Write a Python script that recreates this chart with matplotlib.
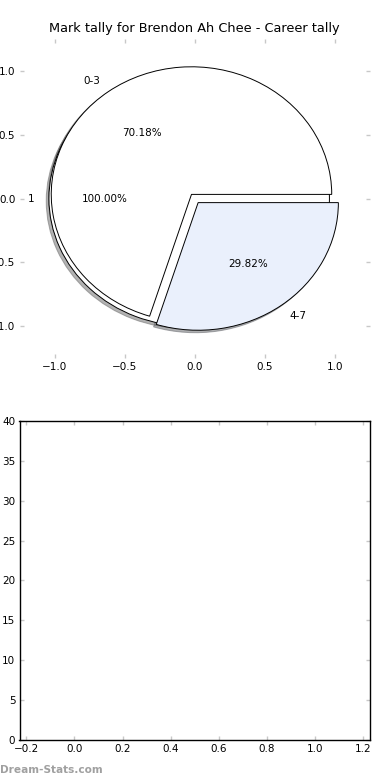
import matplotlib
matplotlib.use("Agg")
import matplotlib.pyplot as plt

title = "Mark tally for Brendon Ah Chee - Career tally"

# outer (total) pie
total_labels = ["1"]
total_values = [57]
total_explode = [0.04]

# mark ranges
range_labels = ["0-3", "4-7"]
range_values = [40, 17]
range_colors = ["#ffffff", "#eaf0fc"]
range_explode = [0.04, 0.04]

pie_ticks = [-1.0, -0.5, 0.0, 0.5, 1.0]
bar_xticks = [-0.2, 0.0, 0.2, 0.4, 0.6, 0.8, 1.0, 1.2]
bar_yticks = [0, 5, 10, 15, 20, 25, 30, 35, 40]

plt.rcParams["font.family"] = "DejaVu Sans"
plt.rcParams["font.size"] = 7.5

fig = plt.figure(figsize=(3.9, 7.8), dpi=100)
ax1 = fig.add_axes([0.05, 0.541, 0.899, 0.409])
ax2 = fig.add_axes([0.05, 0.0513, 0.899, 0.409])

wp = {"edgecolor": "black", "linewidth": 0.7}
sh = {"ox": -0.014, "oy": -0.014, "shade": 0.6}
ax1.pie(total_values, labels=total_labels, colors=["#ffffff"], explode=total_explode,
        autopct="%.2f%%", shadow=sh, startangle=0, labeldistance=1.1, pctdistance=0.6,
        wedgeprops=wp, textprops={"fontsize": 7.5})
ax1.pie(range_values, labels=range_labels, colors=range_colors, explode=range_explode,
        autopct="%.2f%%", shadow=sh, startangle=0, labeldistance=1.1, pctdistance=0.6,
        wedgeprops=wp, textprops={"fontsize": 7.5})
ax1.set_aspect("auto")
ax1.set_frame_on(False)
ax1.set_xlim(-1.25, 1.25)
ax1.set_ylim(-1.25, 1.25)
ax1.set_xticks(pie_ticks)
ax1.set_yticks(pie_ticks)
ax1.set_title(title, fontsize=9.3, pad=5)

ax2.set_xlim(-0.228, 1.228)
ax2.set_ylim(0, 40)
ax2.set_xticks(bar_xticks)
ax2.set_yticks(bar_yticks)

for ax in (ax1, ax2):
    ax.tick_params(direction="in", length=3, width=1, color="#c8c8c8",
                   top=True, right=True, labelsize=7.5, pad=3)
for sp in ax2.spines.values():
    sp.set_linewidth(1)

fig.text(0.0, 0.013, "Dream-Stats.com", color="#a0a0a0", fontsize=7.6,
         fontweight="bold", ha="left", va="center")

fig.savefig("out.png", dpi=100)
